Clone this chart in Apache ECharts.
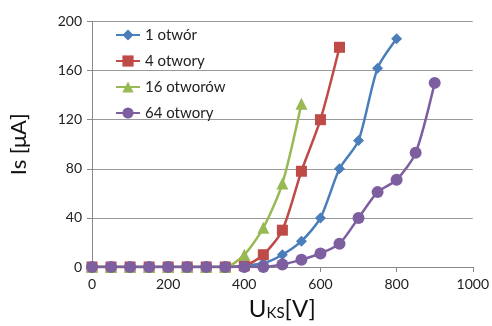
<!DOCTYPE html>
<html><head><meta charset="utf-8">
<script src="https://cdn.jsdelivr.net/npm/echarts@6/dist/echarts.min.js"></script>
<style>html,body{margin:0;padding:0;background:#fff}#c{width:492px;height:326px}</style>
</head><body><div id="c"></div>
<script>
const xValues = [0,50,100,150,200,250,300,350,400,450,500,550,600,650,700,750,800,850,900];
const names = ['1 otwór','4 otwory','16 otworów','64 otwory'];
const s1 = [0,0,0,0,0,0,0,0,1,3,10,21,40,80,103,162,186,null,null];
const s2 = [0,0,0,0,0,0,0,0,1,10,30,78,120,179,null,null,null,null,null];
const s3 = [0,0,0,0,0,0,0,0,10,32,68,133,null,null,null,null,null,null,null];
const s4 = [0,0,0,0,0,0,0,0,0,0,2,6,11,19,40,61,71,93,150];
const colors = ['#4A7EBB','#BE4B48','#98B954','#7D5FA0'];
const symbols = ['diamond','rect','triangle','circle'];
const sizes = [11,11,12,12];
const all = [s1,s2,s3,s4];
const chart = echarts.init(document.getElementById('c'));
const font = 'Lato, "Open Sans", sans-serif';
chart.setOption({
  animation:false,
  grid:{left:87.5,right:18.5,top:21.5,bottom:55},
  legend:{
    orient:'vertical', left:110, top:22, itemGap:10, itemWidth:24, itemHeight:14,
    textStyle:{fontFamily:font,fontSize:15,color:'#222',lineHeight:16},
    data:names
  },
  xAxis:{type:'value',min:0,max:1000,interval:200,
    axisLine:{lineStyle:{color:'#888'}},axisTick:{show:true,length:5,lineStyle:{color:'#888'}},
    splitLine:{show:false},
    axisLabel:{fontFamily:font,fontSize:14,color:'#222',margin:10,formatter:v=>String(v)},
    name:'{u|U}{s|KS}{u|[V]}',nameLocation:'middle',nameGap:30,
    nameTextStyle:{rich:{u:{fontFamily:font,fontSize:24,color:'#111'},s:{fontFamily:font,fontSize:15,color:'#111',padding:[8,0,0,0]}}}
  },
  yAxis:{type:'value',min:0,max:200,interval:40,
    axisLine:{show:true,lineStyle:{color:'#888'}},axisTick:{show:true,length:5,lineStyle:{color:'#888'}},
    splitLine:{lineStyle:{color:'#999'}},
    axisLabel:{fontFamily:font,fontSize:14,color:'#222',margin:10},
    name:'Is [μA]',nameLocation:'middle',nameGap:62,
    nameTextStyle:{fontFamily:font,fontSize:22,color:'#111'}
  },
  series:all.map((d,i)=>({
    name:names[i],type:'line',smooth:0.25,
    data:xValues.map((x,j)=>d[j]==null?null:[x,d[j]]).filter(p=>p),
    symbol:symbols[i],symbolSize:sizes[i],
    lineStyle:{width:2.5,color:colors[i]},
    itemStyle:{color:colors[i]}
  }))
});
</script></body></html>
